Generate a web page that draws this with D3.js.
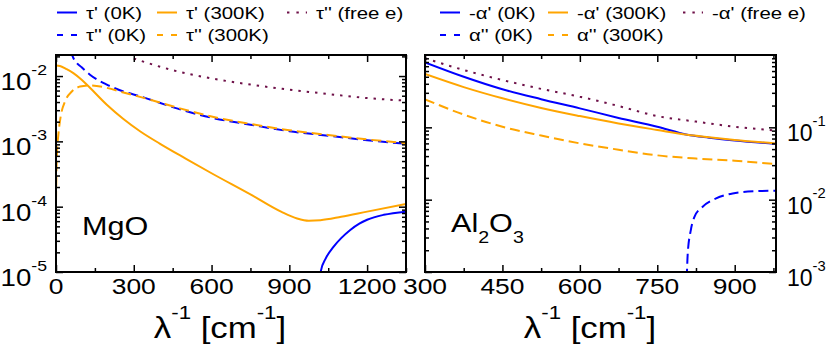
<!DOCTYPE html>
<html>
<head>
<meta charset="UTF-8">
<title>MgO / Al2O3 response</title>
<script src="https://cdn.jsdelivr.net/npm/d3@7"></script>
<style>
  body { margin: 0; background: #fff; }
  text { font-family: "Liberation Sans", Arial, sans-serif; fill: #000; }
</style>
</head>
<body>
<script>
// ---- MgO panel: [lambda^-1 in cm^-1, value] ----
const mgoTau1_0K = [[1008, 4e-6], [1015, 7e-6], [1022, 1.05e-5], [1040, 1.6e-5], [1071, 2.45e-5],
  [1100, 3.3e-5], [1135, 4.4e-5], [1170, 5.5e-5], [1200, 6.3e-5], [1264, 7.5e-5], [1350, 8.4e-5]];
const mgoTau1_300K = [[0, 0.0145], [15, 0.0143], [40, 0.0128], [67, 0.0111], [100, 0.0087], [131, 0.0066],
  [196, 0.00363], [260, 0.0022], [324, 0.00143], [400, 0.000925], [500, 0.000545], [600, 0.000325],
  [750, 0.000154], [870, 8.3e-5], [930, 6.6e-5], [975, 6.1e-5], [1020, 6.2e-5], [1100, 7.0e-5],
  [1200, 8.4e-5], [1350, 1.1e-4]];
const mgoTau2Free = [[300, 0.0185], [450, 0.0123], [600, 0.0092], [750, 0.0074], [900, 0.0062],
  [1050, 0.0053], [1200, 0.0046], [1350, 0.0042]];
const mgoTau2_0K = [[55, 0.025], [67, 0.0189], [100, 0.0135], [131, 0.0105], [196, 0.0074], [260, 0.0058],
  [324, 0.0049], [466, 0.0032], [600, 0.0023], [750, 0.0018], [900, 0.00143], [1050, 0.00122],
  [1200, 0.00104], [1350, 0.00092]];
const mgoTau2_300K = [[0, 1.2e-4], [2, 4e-4], [5, 8e-4], [9, 0.00126], [18, 0.0024], [35, 0.0041],
  [61, 0.0058], [93, 0.0069], [131, 0.0072], [196, 0.0066], [260, 0.0056], [324, 0.0048], [466, 0.0033],
  [600, 0.0024], [750, 0.00185], [900, 0.00148], [1050, 0.00125], [1200, 0.00107], [1350, 0.00094]];

// ---- Al2O3 panel ----
const alAlpha1_0K = [[300, 0.79], [375, 0.5], [450, 0.336], [525, 0.245], [600, 0.183], [675, 0.135],
  [750, 0.102], [808, 0.079], [850, 0.072], [900, 0.066], [980, 0.059]];
const alAlpha1_300K = [[300, 0.546], [375, 0.36], [450, 0.252], [525, 0.185], [600, 0.143], [675, 0.113],
  [750, 0.092], [808, 0.079], [850, 0.073], [900, 0.067], [980, 0.060]];
const alAlpha1Free = [[300, 0.90], [375, 0.62], [450, 0.451], [525, 0.34], [600, 0.265], [675, 0.197],
  [750, 0.143], [825, 0.12], [900, 0.102], [980, 0.09]];
const alAlpha2_0K = [[806, 0.0005], [807.5, 0.001], [809, 0.0018], [815, 0.0038], [822, 0.0058],
  [838, 0.0080], [864, 0.0104], [896, 0.0122], [940, 0.0131], [980, 0.0133]];
const alAlpha2_300K = [[300, 0.244], [375, 0.15], [450, 0.102], [525, 0.077], [600, 0.060], [675, 0.049],
  [750, 0.041], [825, 0.037], [900, 0.0345], [980, 0.031]];

const mgoXTicks = [0, 300, 600, 900, 1200];
const alXTicks = [300, 450, 600, 750, 900];
const mgoYTicks = [1e-5, 1e-4, 1e-3, 1e-2];
const alYTicks = [1e-3, 1e-2, 1e-1];

const mgoLegend = [["τ' (0K)", 'blue', 'solid'], ["τ' (300K)", 'orange', 'solid'], ["τ'' (free e)", 'free', 'dot'],
  ["τ'' (0K)", 'blue', 'dash'], ["τ'' (300K)", 'orange', 'dash']];
const alLegend = [["-α' (0K)", 'blue', 'solid'], ["-α' (300K)", 'orange', 'solid'], ["-α' (free e)", 'free', 'dot'],
  ["α'' (0K)", 'blue', 'dash'], ["α'' (300K)", 'orange', 'dash']];

const width = 830, height = 347;
const plotTop = 55, plotBottom = 272;
const colors = { blue: '#0000ff', orange: '#ffa500', free: '#6e1048' };
const dashes = { solid: null, dash: '10,5', dot: '2.4,6' };

const svg = d3.select('body').append('svg')
  .attr('width', width).attr('height', height);

// text a bit wider than plain Liberation Sans, like the reference
const label = (sel, x, y, parts, size, anchor, sx = 1.2) => {
  const g = sel.append('g').attr('transform', `translate(${x},${y}) scale(${sx},1)`);
  const t = g.append('text').attr('font-size', size).attr('text-anchor', anchor);
  let shift = 0;
  parts.forEach(p => {
    const want = p.sup ? -size * 0.66 : p.sub ? size * 0.43 : 0;
    const ts = t.append('tspan').text(p.t).attr('dy', want - shift);
    if (p.sup || p.sub) ts.attr('font-size', size * 0.64);
    shift = want;
  });
};

const minors = (lo, hi, step, majors) => d3.range(lo, hi + 0.001, step).filter(v => !majors.includes(v));
const logMinors = (lo, hi) => {
  const out = [];
  for (let e = Math.floor(Math.log10(lo)); e <= Math.ceil(Math.log10(hi)); e++)
    for (let m = 2; m <= 9; m++) { const v = m * 10 ** e; if (v > lo && v < hi) out.push(v); }
  return out;
};

const drawPanel = (cfg) => {
  const { x, y, xTicks, xMinorStep, yTicks, series, legend, id } = cfg;
  const [x0, x1] = x.range();
  const g = svg.append('g');

  g.append('clipPath').attr('id', id).append('rect')
    .attr('x', x0).attr('y', plotTop).attr('width', x1 - x0).attr('height', plotBottom - plotTop);

  const line = d3.line().x(d => x(d[0])).y(d => y(d[1])).curve(d3.curveMonotoneX);
  series.forEach(s => {
    g.append('path')
      .attr('clip-path', `url(#${id})`)
      .attr('d', line(s.data))
      .attr('fill', 'none')
      .attr('stroke', colors[s.color])
      .attr('stroke-width', 2)
      .attr('stroke-dasharray', dashes[s.style]);
  });

  // inward ticks on all four sides
  const xMin = minors(x.domain()[0], x.domain()[1], xMinorStep, xTicks);
  const yMin = logMinors(y.domain()[0], y.domain()[1]);
  [[d3.axisBottom(x), `translate(0,${plotBottom})`], [d3.axisTop(x), `translate(0,${plotTop})`]].forEach(([ax, tr]) => {
    g.append('g').attr('transform', tr).call(ax.tickValues(xTicks).tickSize(-7).tickFormat(''));
    g.append('g').attr('transform', tr).call(ax.tickValues(xMin).tickSize(-4).tickFormat(''));
  });
  [[d3.axisLeft(y), `translate(${x0},0)`], [d3.axisRight(y), `translate(${x1},0)`]].forEach(([ax, tr]) => {
    g.append('g').attr('transform', tr).call(ax.tickValues(yTicks).tickSize(-7).tickFormat(''));
    g.append('g').attr('transform', tr).call(ax.tickValues(yMin).tickSize(-4).tickFormat(''));
  });
  g.selectAll('.domain').remove();
  g.selectAll('.tick line').attr('stroke', '#000').attr('stroke-width', 1.5);

  g.append('rect')
    .attr('x', x0).attr('y', plotTop).attr('width', x1 - x0).attr('height', plotBottom - plotTop)
    .attr('fill', 'none').attr('stroke', '#000').attr('stroke-width', 2);

  xTicks.forEach(v => label(g, x(v), 294, [{ t: String(v) }], 22, 'middle'));
  yTicks.forEach(v => {
    const parts = [{ t: '10' }, { t: String(Math.round(Math.log10(v))), sup: true }];
    if (cfg.yLabelSide === 'left') label(g, x0 - 9, y(v) + 14, parts, 23, 'end');
    else label(g, x1 + 11, y(v) + 14, parts, 23, 'start', 1.0);
  });

  label(g, cfg.titleX, 338, [{ t: 'λ' }, { t: '-1', sup: true }, { t: ' [cm' }, { t: '-1', sup: true }, { t: ']' }], 29, 'middle');

  // legend: 3 on the first row, 2 on the second
  legend.forEach((d, i) => {
    const row = i < 3 ? 0 : 1;
    const col = i < 3 ? i : i - 3;
    const sx = cfg.legendX[col];
    const ly = row === 0 ? 12.5 : 35;
    g.append('line')
      .attr('x1', sx).attr('x2', sx + 20).attr('y1', ly).attr('y2', ly)
      .attr('stroke', colors[d[1]]).attr('stroke-width', 2)
      .attr('stroke-dasharray', d[2] === 'dash' ? '6,8' : d[2] === 'dot' ? '2.4,7' : null);
    label(g, sx + 29, ly + 6, [{ t: d[0] }], 17, 'start');
  });

  cfg.name(g);
};

const xL = d3.scaleLinear().domain([0, 1350]).range([56, 406]);
const yL = d3.scaleLog().domain([1e-5, 0.021]).range([plotBottom, plotTop]);
const xR = d3.scaleLinear().domain([300, 980]).range([425, 776]);
const yR = d3.scaleLog().domain([1e-3, 1]).range([plotBottom, plotTop]);

drawPanel({
  id: 'clip-mgo', x: xL, y: yL, xTicks: mgoXTicks, xMinorStep: 150, yTicks: mgoYTicks,
  yLabelSide: 'left', titleX: 220, legendX: [57, 157, 287], legend: mgoLegend,
  series: [
    { data: mgoTau1_0K, color: 'blue', style: 'solid' },
    { data: mgoTau1_300K, color: 'orange', style: 'solid' },
    { data: mgoTau2Free, color: 'free', style: 'dot' },
    { data: mgoTau2_0K, color: 'blue', style: 'dash' },
    { data: mgoTau2_300K, color: 'orange', style: 'dash' },
  ],
  name: g => label(g, 82, 235, [{ t: 'MgO' }], 25.5, 'start'),
});

drawPanel({
  id: 'clip-al', x: xR, y: yR, xTicks: alXTicks, xMinorStep: 75, yTicks: alYTicks,
  yLabelSide: 'right', titleX: 590, legendX: [440, 548, 683], legend: alLegend,
  series: [
    { data: alAlpha1_0K, color: 'blue', style: 'solid' },
    { data: alAlpha1_300K, color: 'orange', style: 'solid' },
    { data: alAlpha1Free, color: 'free', style: 'dot' },
    { data: alAlpha2_0K, color: 'blue', style: 'dash' },
    { data: alAlpha2_300K, color: 'orange', style: 'dash' },
  ],
  name: g => label(g, 451, 232, [{ t: 'Al' }, { t: '2', sub: true }, { t: 'O' }, { t: '3', sub: true }], 25.5, 'start'),
});
</script>
</body>
</html>
